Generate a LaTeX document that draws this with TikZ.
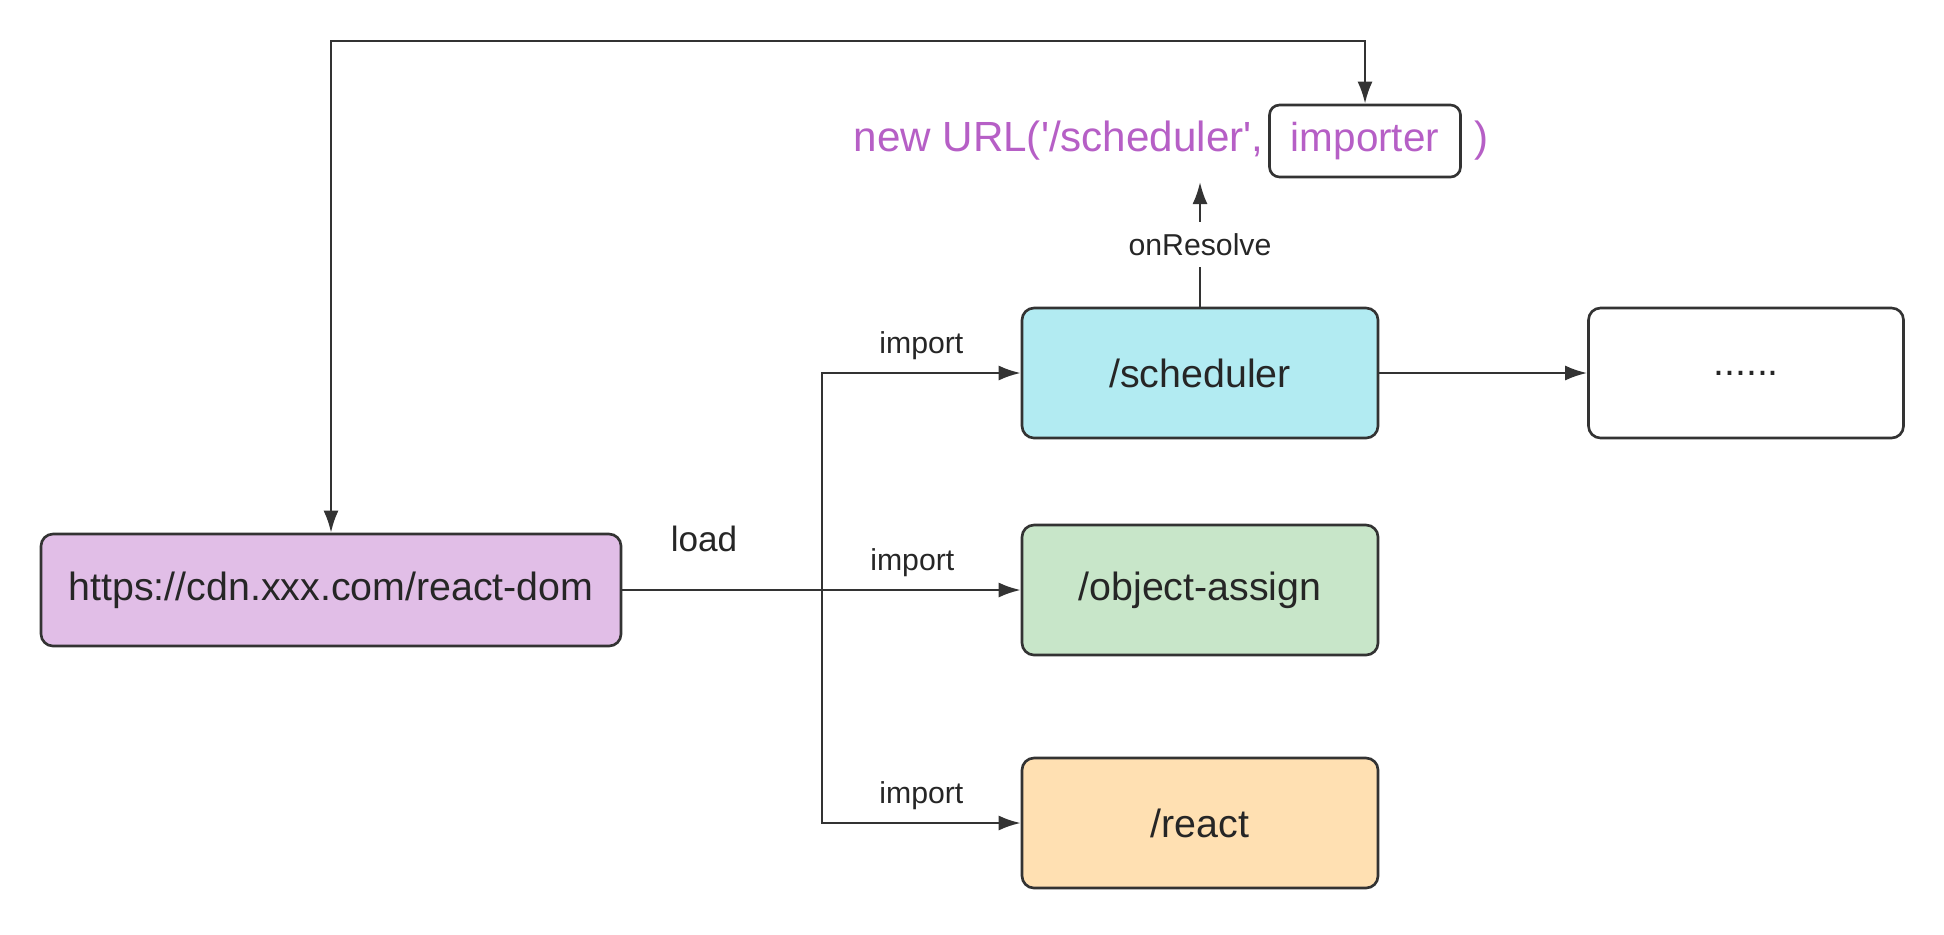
\documentclass[tikz,border=0pt]{standalone}
\usepackage{fontspec}
\setmainfont{Liberation Sans}
\usetikzlibrary{arrows.meta}
\definecolor{boxline}{HTML}{333333}
\definecolor{urlpurple}{HTML}{B65FC6}
\definecolor{domfill}{HTML}{E1BEE7}
\definecolor{schedfill}{HTML}{B2EBF2}
\definecolor{assignfill}{HTML}{C8E6C9}
\definecolor{reactfill}{HTML}{FFE0B2}
\newcommand{\boxfont}{\fontsize{11.2}{13}\selectfont}
\newcommand{\tagfont}{\fontsize{8.6}{10}\selectfont}
\newcommand{\urlfont}{\fontsize{12}{14}\selectfont}

\begin{document}
\begin{tikzpicture}[scale=1.0,
  modbox/.style={draw=boxline,line width=0.75pt,rounded corners=1.2mm,
    minimum height=1.3cm,minimum width=3.56cm,font=\boxfont,text=black!85},
  link/.style={draw=boxline,line width=0.7pt,-{Latex[length=2.2mm,width=1.5mm]}},
  bilink/.style={draw=boxline,line width=0.7pt,
    {Latex[length=2.2mm,width=1.5mm]}-{Latex[length=2.2mm,width=1.5mm]}},
  tag/.style={font=\tagfont,text=black!85}]
\useasboundingbox (0,0) rectangle (19.44,9.34);
\fill[white] (0,0) rectangle (19.44,9.34);
\node[modbox,fill=domfill,minimum width=5.8cm,minimum height=1.12cm] (dom) at (3.31,3.44)
  {https://cdn.xxx.com/react-dom};
\node[modbox,fill=schedfill] (sched) at (12.0,5.61) {/scheduler};
\node[modbox,fill=assignfill] (assign) at (12.0,3.44) {/object-assign};
\node[modbox,fill=reactfill] (react) at (12.0,1.11) {/react};
\node[modbox,fill=white,minimum width=3.15cm] (more) at (17.46,5.61) {......};
\node[draw=boxline,line width=0.75pt,rounded corners=1mm,minimum width=1.91cm,
  minimum height=0.72cm,font=\fontsize{11.5}{13}\selectfont,text=urlpurple] (imp) at (13.65,7.93) {importer};
\node[anchor=east,inner xsep=0.4mm,font=\urlfont,text=urlpurple] (url) at (imp.west)
  {new URL(\textquotesingle/scheduler\textquotesingle,};
\node[anchor=west,inner xsep=1.2mm,font=\urlfont,text=urlpurple] (close) at (imp.east) {)};
\coordinate (split) at (8.22,3.44);
\coordinate (res) at (12.0,7.52);
\coordinate (ttop) at (3.31,8.93);
\draw[link] (dom) -- node[pos=0.205,above=2.5mm,font=\fontsize{10}{12}\selectfont,text=black!85] {load}
  node[pos=0.728,above,tag] {import} (assign);
\draw[link] (split) |- node[pos=0.75,above,tag] {import} (sched);
\draw[link] (split) |- node[pos=0.75,above,tag] {import} (react);
\draw[link] (sched) -- node[fill=white,tag] {onResolve} (res);
\draw[link] (sched) -- (more);
\draw[bilink] (dom.north) -- (ttop) -| (imp.north);
\end{tikzpicture}
\end{document}
